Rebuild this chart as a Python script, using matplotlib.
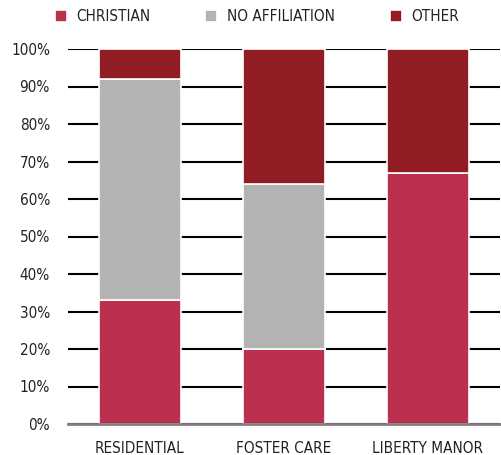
import matplotlib.pyplot as plt
import numpy as np

categories = ["RESIDENTIAL", "FOSTER CARE", "LIBERTY MANOR"]
christian = [33, 20, 67]
no_affiliation = [59, 44, 0]
other = [8, 36, 33]
series_names = ["CHRISTIAN", "NO AFFILIATION", "OTHER"]
colors = ["#BC2F4E", "#B3B3B3", "#921C24"]

plt.rcParams['font.family'] = ['DejaVu Sans']
plt.rcParams['font.stretch'] = 'condensed'

fig = plt.figure(figsize=(5.02, 4.55), dpi=100)
ax = fig.add_axes([68 / 502, 31 / 455, 432 / 502, 375 / 455])

x = np.arange(len(categories))
bottom = np.zeros(len(categories))
for vals, name, col in zip([christian, no_affiliation, other], series_names, colors):
    ax.bar(x, vals, 0.57, bottom=bottom, color=col, edgecolor="white",
           linewidth=1.2, label=name, zorder=3)
    bottom += np.array(vals)

ax.set_xlim(-0.5, 2.5)
ax.set_ylim(0, 100)
ax.set_yticks(range(0, 101, 10))
ax.set_yticklabels([f"{v}%" for v in range(0, 101, 10)])
ax.set_xticks(x)
ax.set_xticklabels(categories)
ax.tick_params(axis="both", length=0, labelsize=11, colors="#222222")
ax.tick_params(axis="x", pad=12)
ax.tick_params(axis="y", pad=13)
ax.grid(axis="y", color="black", linewidth=1.5, zorder=0)
for s in ["top", "right", "left"]:
    ax.spines[s].set_visible(False)
ax.spines["bottom"].set_color("#808080")
ax.spines["bottom"].set_linewidth(2)
ax.spines["bottom"].set_zorder(4)

fig.legend(loc="upper left", bbox_to_anchor=(41 / 502, 1.01), ncol=3, frameon=False,
           fontsize=11, handlelength=0.8, handleheight=0.8, columnspacing=3.6,
           handletextpad=0.6, labelcolor="#222222")

fig.savefig("out.png", dpi=100)
